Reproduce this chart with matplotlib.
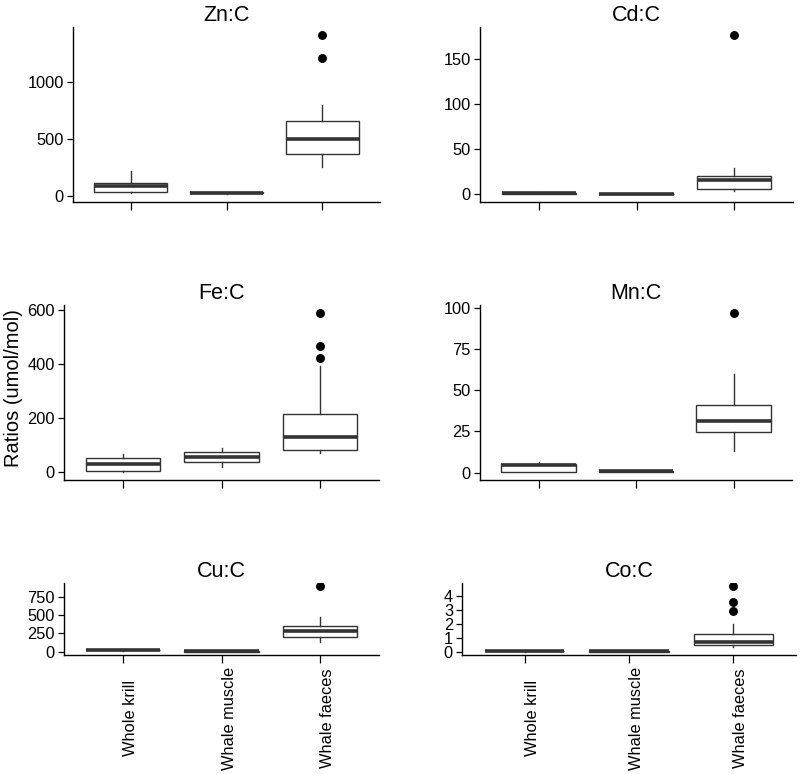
import matplotlib
matplotlib.use("Agg")
import matplotlib.pyplot as plt
import matplotlib.transforms as mtransforms

plt.rcParams["font.family"] = ["Liberation Sans", "DejaVu Sans"]

# sample groups (x axis)
groups = ["Whole krill", "Whale muscle", "Whale faeces"]

# box stats: [whislo, q1, median, q3, whishi] per group
zn_stats = [[26, 35, 88, 114, 219], [14, 20, 26, 30, 36], [254, 368, 500, 658, 798]]
zn_fliers = [[], [], [1210, 1412]]
zn_ticks = [0, 500, 1000]

cd_stats = [[0.5, 0.8, 1.2, 1.6, 2.0], [0.2, 0.4, 0.5, 0.6, 0.8], [4.0, 5.5, 15.5, 20.7, 29.5]]
cd_fliers = [[], [], [176.7]]
cd_ticks = [0, 50, 100, 150]

fe_stats = [[1, 6, 31, 54, 68], [21, 38, 56, 74, 89], [70, 81, 131, 215, 392]]
fe_fliers = [[], [], [422, 467, 588]]
fe_ticks = [0, 200, 400, 600]

mn_stats = [[0.5, 0.6, 4.5, 5.0, 6.3], [0.3, 0.6, 0.9, 1.1, 1.4], [13.4, 24.4, 31.3, 41.0, 60.1]]
mn_fliers = [[], [], [97.1]]
mn_ticks = [0, 25, 50, 75, 100]

cu_stats = [[15, 18, 23, 27, 32], [0.5, 2, 4, 6, 8], [137, 206, 288, 348, 472]]
cu_fliers = [[], [], [890]]
cu_ticks = [0, 250, 500, 750]

co_stats = [[0.02, 0.04, 0.06, 0.08, 0.1], [0.01, 0.02, 0.03, 0.04, 0.05], [0.36, 0.52, 0.67, 1.29, 2.0]]
co_fliers = [[], [], [2.88, 3.57, 4.66]]
co_ticks = [0, 1, 2, 3, 4]

W, H = 800, 774
fig = plt.figure(figsize=(W / 100, H / 100), dpi=100)

# panel boxes in pixels: left, right, top, bottom
panels = [
    ("Zn:C", zn_stats, zn_fliers, zn_ticks, (73, 380, 27, 202), False),
    ("Cd:C", cd_stats, cd_fliers, cd_ticks, (480, 793, 27, 202), False),
    ("Fe:C", fe_stats, fe_fliers, fe_ticks, (64, 379, 305, 480), False),
    ("Mn:C", mn_stats, mn_fliers, mn_ticks, (480, 792, 305, 480), False),
    ("Cu:C", cu_stats, cu_fliers, cu_ticks, (64, 379, 583, 655), True),
    ("Co:C", co_stats, co_fliers, co_ticks, (462, 796, 583, 655), True),
]

box_col = "#333333"

for title, stats, fliers, ticks, (l, r, t, b), show_labels in panels:
    ax = fig.add_axes([l / W, 1 - b / H, (r - l) / W, (b - t) / H])
    bxp_stats = []
    for name, s, f in zip(groups, stats, fliers):
        bxp_stats.append(dict(label=name, whislo=s[0], q1=s[1], med=s[2],
                              q3=s[3], whishi=s[4], fliers=f))
    ax.bxp(bxp_stats, positions=[1, 2, 3], widths=0.76, showcaps=False,
           patch_artist=True,
           boxprops=dict(facecolor="white", edgecolor=box_col, linewidth=1.0),
           whiskerprops=dict(color=box_col, linewidth=1.0),
           medianprops=dict(color=box_col, linewidth=2.6, solid_capstyle="butt"),
           flierprops=dict(marker="o", markerfacecolor="black",
                           markeredgecolor="black", markersize=5.4))

    # ggplot-like 5% expansion of the data range
    vals = [v for s in stats for v in s] + [v for f in fliers for v in f]
    lo, hi = min(vals), max(vals)
    pad = 0.05 * (hi - lo)
    ax.set_ylim(lo - pad, hi + pad)
    ax.set_xlim(0.4, 3.6)
    ax.set_yticks(ticks)
    ax.set_yticklabels([str(v) for v in ticks], fontsize=11.8)
    ax.set_xticks([1, 2, 3])
    ax.set_xticklabels([])
    ax.tick_params(axis="y", length=4.5, width=0.9, color="black", pad=2)
    ax.tick_params(axis="x", length=5.5, width=0.9, color="black")

    for side in ["top", "right"]:
        ax.spines[side].set_visible(False)
    for side in ["left", "bottom"]:
        ax.spines[side].set_linewidth(1.0)
        ax.spines[side].set_color("black")

    ax.set_title(title, fontsize=15.5, pad=4)

    if show_labels:
        trans = mtransforms.blended_transform_factory(ax.transData, fig.transFigure)
        for i, name in enumerate(groups):
            ax.text(i + 1, 1 - 718 / H, name, rotation=90, ha="left", va="center",
                    fontsize=11.8, transform=trans)

fig.text(13.5 / W, 1 - 388 / H, "Ratios (umol/mol)", rotation=90,
         ha="center", va="center", fontsize=14.5)

fig.savefig("out.png", dpi=100)
